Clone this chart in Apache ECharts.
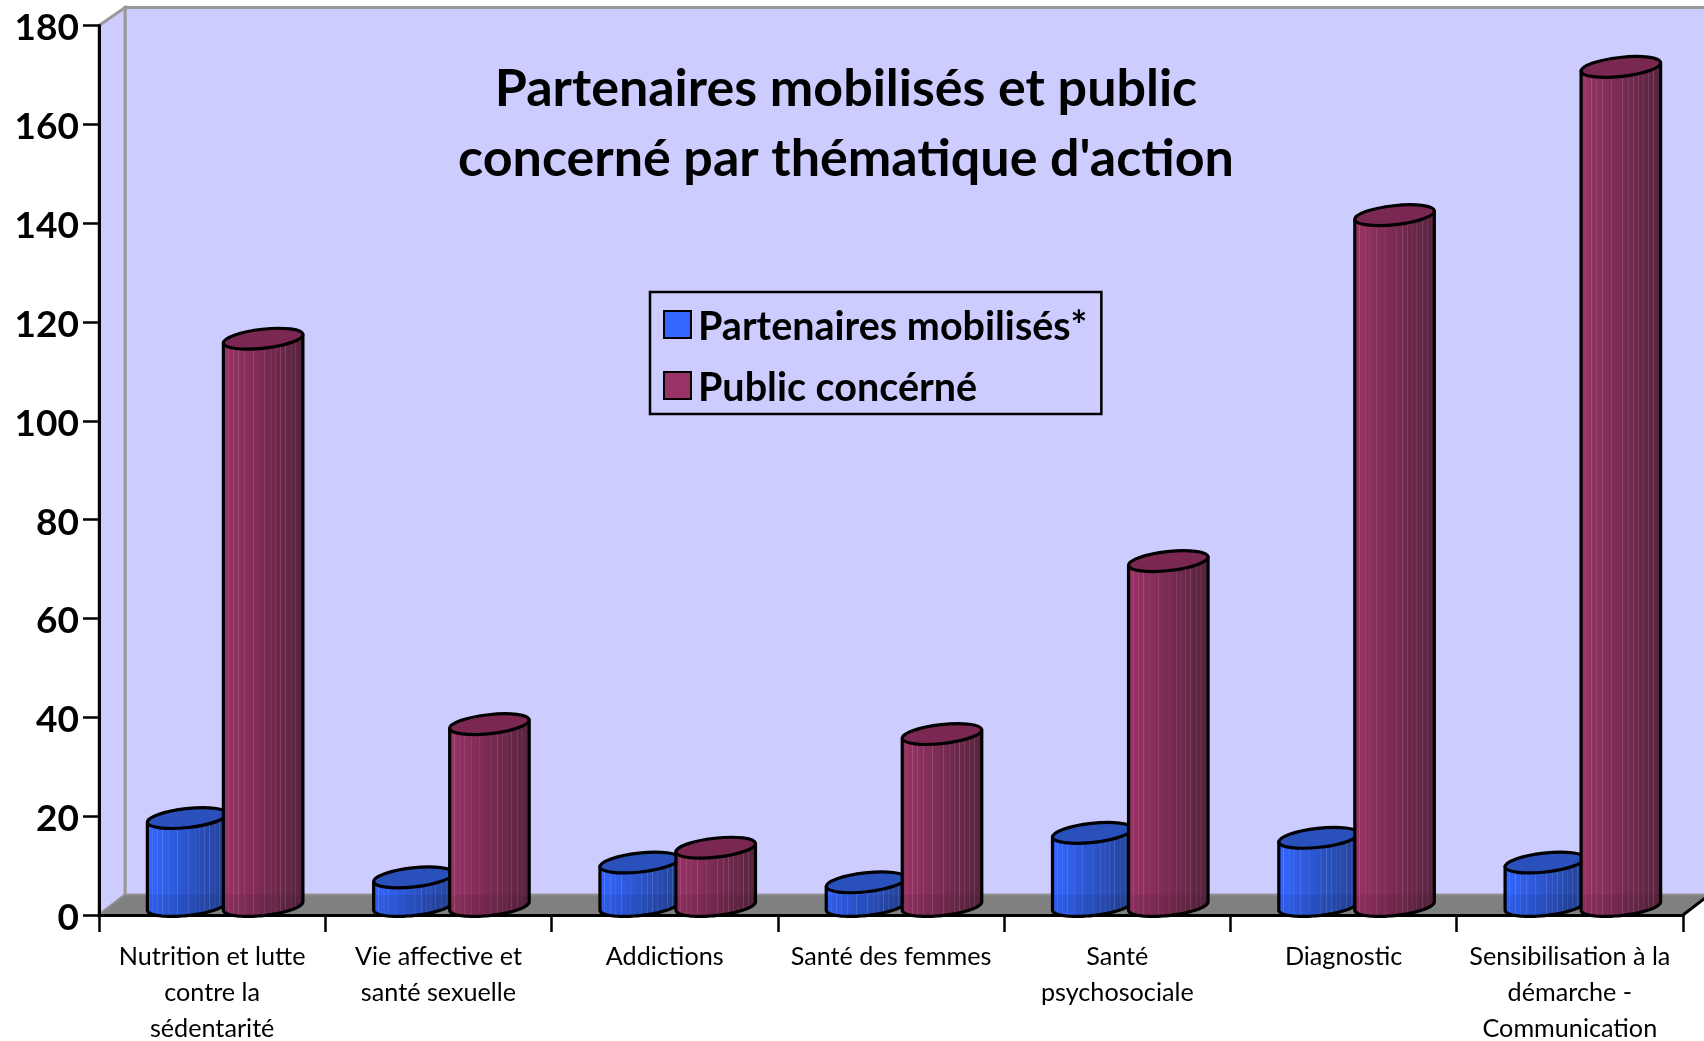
<!DOCTYPE html>
<html><head><meta charset="utf-8">
<style>html,body{margin:0;padding:0;background:#fff}#c{width:1704px;height:1041px}</style>
<script src="https://cdn.jsdelivr.net/npm/echarts@6/dist/echarts.min.js"></script>
</head><body><div id="c"></div>
<script>
const categories = ['Nutrition et lutte\ncontre la\nsédentarité','Vie affective et\nsanté sexuelle','Addictions','Santé des femmes','Santé\npsychosociale','Diagnostic','Sensibilisation à la\ndémarche -\nCommunication'];
const partenaires = [18,6,9,5,15,14,9];
const publicConcerne = [115,37,12,35,70,140,170];
const yTicks = {min:0,max:180,interval:20};

const FONT='Lato';
const RX=40,RY=9.5,TILT=0.11,BASE=9,TOP_BASE=8,DEPTH_X=26,DEPTH_Y=20,LW=3.2;
const stripes=[.06,.13,.19,.27,.38,.52,.6,.66,.72,.78,.85,.91];
function mix(a,b,t){return 'rgb('+a.map((v,i)=>Math.round(v+(b[i]-v)*t)).join(',')+')';}
function bodyGrad(c1,c2){
  const stops=[];
  const lit=(t,k)=>{const base=c1.map((v,i)=>v+(c2[i]-v)*t);return mix(base,[255,255,255],k);};
  stops.push({offset:0,color:lit(0,0)});
  stripes.forEach(s=>{
    stops.push({offset:s-.008,color:lit(s-.008,0)});
    stops.push({offset:s,color:lit(s,.16)});
    stops.push({offset:s+.008,color:lit(s+.008,0)});
  });
  stops.push({offset:1,color:lit(1,0)});
  return {type:'linear',x:0,y:0,x2:1,y2:0,colorStops:stops};
}
function ellPt(cx,cy,t){
  const c=Math.cos(TILT),s=Math.sin(TILT);
  return [cx+RX*Math.cos(t)*c+RY*Math.sin(t)*s, cy-RX*Math.cos(t)*s+RY*Math.sin(t)*c];
}
function cylinder(shift,c1,c2,topColor){
  const grad=bodyGrad(c1,c2);
  return function(params,api){
    const top=api.coord([api.value(0),api.value(1)]);
    const zero=api.coord([api.value(0),0]);
    const cx=top[0]+shift, cyT=top[1]-TOP_BASE, cyB=zero[1]-BASE;
    const t0=Math.atan2(RY*Math.sin(TILT),RX*Math.cos(TILT));
    const arc=[];
    for(let i=0;i<=48;i++){arc.push(ellPt(cx,cyB,t0+Math.PI*i/48));}
    const right=ellPt(cx,cyT,t0), left=ellPt(cx,cyT,t0+Math.PI);
    const body=[right].concat(arc).concat([left]);
    const floorY=zero[1]-DEPTH_Y;
    const shade=[[arc[0][0],floorY]].concat(arc).concat([[arc[48][0],floorY]]);
    return {type:'group',children:[
      {type:'polygon',shape:{points:body},style:{fill:grad,stroke:null}},
      {type:'polygon',shape:{points:shade},style:{fill:'rgba(0,0,0,0.07)',stroke:null}},
      {type:'polygon',shape:{points:body},style:{fill:'none',stroke:'#000',lineWidth:LW,lineJoin:'round'}},
      {type:'ellipse',shape:{cx:0,cy:0,rx:RX,ry:RY},x:cx,y:cyT,rotation:TILT,style:{fill:topColor,stroke:'#000',lineWidth:LW}}
    ]};
  };
}
function backdrop(params,api){
  const r=params.coordSys;
  const x0=r.x,x1=r.x+r.width,y0=r.y,y1=r.y+r.height;
  const bx0=x0+DEPTH_X,bx1=x1+DEPTH_X,by0=y0-18,by1=y1-DEPTH_Y;
  const grey='#999999',wall='#CCCCFF';
  return {type:'group',children:[
    {type:'polygon',shape:{points:[[bx0,by0],[bx1,by0],[bx1,by1],[bx0,by1]]},style:{fill:wall,stroke:grey,lineWidth:3}},
    {type:'polygon',shape:{points:[[x0,y0],[bx0,by0],[bx0,by1],[x0,y1]]},style:{fill:wall,stroke:grey,lineWidth:3}},
    {type:'polygon',shape:{points:[[x0,y1],[bx0,by1],[bx1,by1],[x1,y1]]},style:{fill:'#808080',stroke:'#8c8c8c',lineWidth:1.5}},
    {type:'line',shape:{x1:x1,y1:y1,x2:bx1,y2:by1},style:{stroke:'#000',lineWidth:3}}
  ]};
}
const toData=a=>a.map((v,i)=>[i,v]);
const BLUE='#3366FF',PLUM='#993366';
const legendFont={fontFamily:FONT,fontWeight:'bold',fontSize:39.5,color:'#000'};
const yFont={fontFamily:FONT,fontWeight:'bold',fontSize:37,color:'#000'};
const chart=echarts.init(document.getElementById('c'),null,{renderer:'canvas'});
chart.setOption({
  animation:false,
  backgroundColor:'#fff',
  grid:{left:99,top:25.5,width:1584,height:889.5,show:false,containLabel:false,outerBoundsMode:'none'},
  title:{text:"Partenaires mobilisés et public\nconcerné par thématique d'action",left:846,top:54.5,textAlign:'center',padding:0,
    textStyle:{fontFamily:FONT,fontWeight:'bold',fontSize:52,lineHeight:70,color:'#000'}},
  legend:{
    data:[{name:'Partenaires mobilisés*',itemStyle:{color:BLUE,borderColor:'#000',borderWidth:2}},
          {name:'Public concérné',itemStyle:{color:PLUM,borderColor:'#000',borderWidth:2}}],
    orient:'vertical',left:650,top:292,padding:[15,14,6,13],itemWidth:27,itemHeight:27,itemGap:21,
    align:'left',icon:'rect',borderColor:'#000',borderWidth:2.5,
    formatter:'{a|{name}}',
    textStyle:Object.assign({},legendFont,{rich:{a:Object.assign({},legendFont,{padding:[5,0,0,2]})}})
  },
  xAxis:{type:'category',data:categories,boundaryGap:true,z:1,
    axisLine:{lineStyle:{color:'#000',width:3}},
    axisTick:{show:true,alignWithLabel:false,length:17,lineStyle:{color:'#000',width:2.5}},
    axisLabel:{interval:0,fontFamily:FONT,fontSize:25.2,lineHeight:36,color:'#000',margin:24}},
  yAxis:{type:'value',min:yTicks.min,max:yTicks.max,interval:yTicks.interval,z:1,
    axisLine:{show:true,lineStyle:{color:'#000',width:3}},
    axisTick:{show:true,length:16,lineStyle:{color:'#000',width:2.5}},
    splitLine:{show:false},
    axisLabel:Object.assign({},yFont,{margin:20,formatter:'{a|{value}}',rich:{a:Object.assign({},yFont,{padding:[6,0,0,0]})}})},
  series:[
    {type:'custom',name:'_fond',z:0,silent:true,clip:false,renderItem:backdrop,data:[[0,0]],encode:{x:0,y:1}},
    {type:'custom',name:'Partenaires mobilisés*',z:2,clip:false,itemStyle:{color:BLUE},
     renderItem:cylinder(-25,[51,102,255],[36,66,150],'#2A50BC'),data:toData(partenaires),encode:{x:0,y:1}},
    {type:'custom',name:'Public concérné',z:2,clip:false,itemStyle:{color:PLUM},
     renderItem:cylinder(51,[153,51,102],[88,36,62],'#7A2852'),data:toData(publicConcerne),encode:{x:0,y:1}}
  ]
});
</script></body></html>
